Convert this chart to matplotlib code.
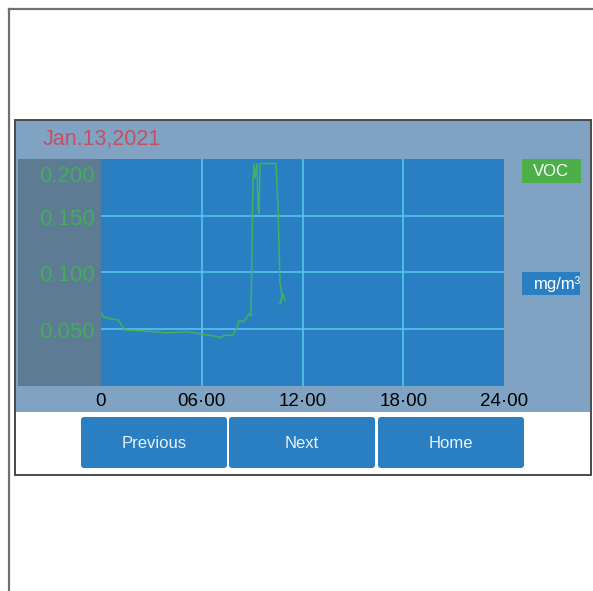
import matplotlib
matplotlib.use("Agg")
import matplotlib.pyplot as plt
from matplotlib.patches import Rectangle, FancyBboxPatch

plt.rcParams['font.family'] = ['Liberation Sans', 'DejaVu Sans']

# data (hours, mg/m3)
hours = [0, 0.12, 0.54, 1.01, 1.43, 2.32, 3.93, 5.12, 5.90, 6.97, 7.15, 7.27, 7.86,
         8.10, 8.22, 8.46, 8.63, 8.81, 8.93, 8.99, 9.05, 9.11, 9.17, 9.29, 9.35,
         9.41, 9.47, 10.42, 10.48, 10.54, 10.66, 10.72, 10.78, 10.66, 10.84, 10.96]
voc = [0.064, 0.061, 0.059, 0.058, 0.049, 0.0485, 0.0467, 0.0476, 0.0458, 0.0432,
       0.0423, 0.044, 0.0449, 0.0511, 0.0573, 0.0564, 0.059, 0.0634, 0.0617, 0.119,
       0.178, 0.196, 0.183, 0.196, 0.157, 0.152, 0.196, 0.196, 0.178, 0.160, 0.090,
       0.086, 0.078, 0.072, 0.081, 0.075]

y_ticks = [0.05, 0.10, 0.15, 0.20]
y_labels = ["0.050", "0.100", "0.150", "0.200"]
x_ticks = [0, 6, 12, 18, 24]
x_labels = ["0", "06·00", "12·00", "18·00", "24·00"]
date_text = "Jan.13,2021"
buttons = ["Previous", "Next", "Home"]

W, H = 593, 591
fig = plt.figure(figsize=(W / 100, H / 100), dpi=100)
fig.patch.set_facecolor("white")

# background axes in pixel coords
bg = fig.add_axes([0, 0, 1, 1])
bg.set_xlim(0, W)
bg.set_ylim(H, 0)
bg.axis("off")

# outer frame lines
bg.plot([9, 9], [9, H], color="#707070", lw=1.6)
bg.plot([9, W], [9, 9], color="#707070", lw=1.6)

# screen box
bg.add_patch(Rectangle((15, 120), 576, 355, facecolor="white", edgecolor="#3a3a3a", lw=1.3))
bg.add_patch(Rectangle((16, 121), 574, 291, facecolor="#81a3c3", edgecolor="none"))
# grey y label area
bg.add_patch(Rectangle((18, 159), 83, 227, facecolor="#5e7b94", edgecolor="none"))

bg.text(43, 139, date_text, color="#c4505e", fontsize=15.5, va="center", ha="left")

# legend boxes
bg.add_patch(Rectangle((522, 159), 59, 24, facecolor="#4caf47", edgecolor="none"))
bg.text(551, 171, "VOC", color="white", fontsize=12, ha="center", va="center")
unit_box = Rectangle((522, 272), 58, 23, facecolor="#2a7fc3", edgecolor="none")
bg.add_patch(unit_box)
t = bg.text(534, 284, "mg/m³", color="white", fontsize=12, ha="left", va="center")
t.set_clip_path(unit_box)

# buttons
bx = [81, 229, 378]
for x0, name in zip(bx, buttons):
    bg.add_patch(FancyBboxPatch((x0, 417), 146, 51, boxstyle="round,pad=0,rounding_size=3",
                                facecolor="#2a7fc3", edgecolor="none"))
    bg.text(x0 + 73, 443, name, color="#eaf2fa", fontsize=12, ha="center", va="center")

# chart
ax = fig.add_axes([101 / W, 1 - 385.7 / H, 403 / W, 226.7 / H])
ax.set_facecolor("#2a7fc3")
ax.set_xlim(0, 24)
ax.set_ylim(0, 0.2)
for s in ax.spines.values():
    s.set_visible(False)
for xv in [6, 12, 18]:
    ax.axvline(xv, color="#5ccaf0", lw=1.1)
for yv in [0.05, 0.10, 0.15]:
    ax.axhline(yv, color="#5ccaf0", lw=1.1)
ax.plot(hours, voc, color="#44b05a", lw=1.1)

ax.set_yticks([])
ax.set_xticks(x_ticks)
ax.set_xticklabels(x_labels, fontsize=13.5, color="black")
ax.tick_params(axis="x", length=0, pad=5)

# y labels sit in the grey strip, top one pushed down
for yv, lab in zip(y_ticks, y_labels):
    yy = yv - 0.015 if yv == 0.20 else yv - 0.003
    ax.text(-0.36, yy, lab, color="#42ad5c", fontsize=16, ha="right", va="center")

fig.savefig("out.png", dpi=100)
